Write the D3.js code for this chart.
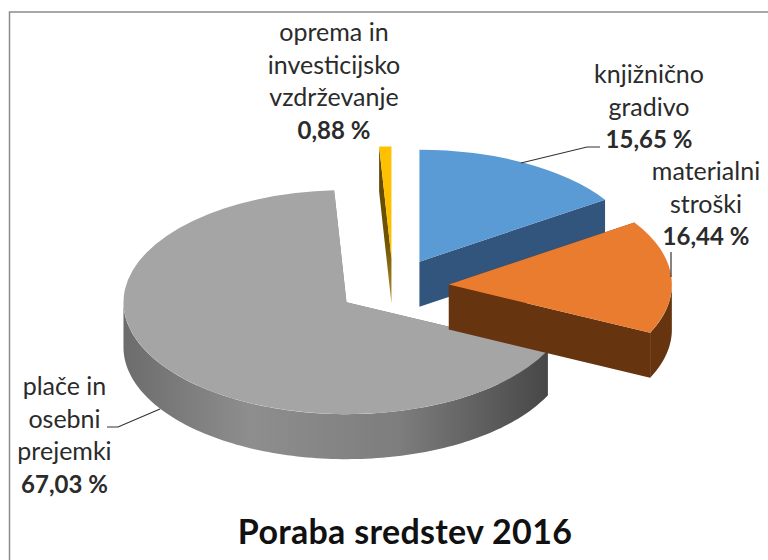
<!DOCTYPE html>
<html>
<head>
<meta charset="utf-8">
<script src="https://cdn.jsdelivr.net/npm/d3@7"></script>
<style>
html,body{margin:0;padding:0;background:#fff;}
svg{display:block;}
text{font-family:Lato,"Open Sans",sans-serif;fill:#2b2b2b;text-anchor:middle;}
</style>
</head>
<body>
<script>
const categories = ["knjižnično gradivo", "materialni stroški", "plače in osebni prejemki", "oprema in investicijsko vzdrževanje"];
const values = [15.65, 16.44, 67.03, 0.88];
const valueLabels = ["15,65 %", "16,44 %", "67,03 %", "0,88 %"];
const labelLines = [["knjižnično", "gradivo"], ["materialni", "stroški"], ["plače in", "osebni", "prejemki"], ["oprema in", "investicijsko", "vzdrževanje"]];
const topColors = ["#5b9bd5", "#ea7c30", "#a5a5a5", "#ffc000"];
const wallColors = ["#31557c", "#66340f", "gray", "#6b5000"];
const title = "Poraba sredstev 2016";

const W = 768, H = 560;
const cx = 393, cy = 286.5, rx = 223, ry = 112, depth = 45, explode = 56;
const k = ry / rx;
const labelPos = [[649, 83], [706, 180], [64.5, 395], [334, 41]];
const lineStep = 32.7;
const leaders = [
  [[521, 163], [587, 147], [600, 147]],
  [[671, 277], [671, 252]],
  [[160, 409], [118, 427], [107, 427]]
];

const svg = d3.select("body").append("svg").attr("width", W).attr("height", H);
svg.append("rect").attr("width", W).attr("height", H).attr("fill", "#fff");

const frame = d3.line();
svg.append("path").attr("d", frame([[9.5, H], [9.5, 12], [W, 12]]))
  .attr("fill", "none").attr("stroke", "#8c8c8c").attr("stroke-width", 1.5);

const defs = svg.append("defs");
const grayGrad = defs.append("linearGradient").attr("id", "grayWall")
  .attr("gradientUnits", "userSpaceOnUse")
  .attr("x1", 123).attr("x2", 548).attr("y1", 0).attr("y2", 0);
[[0, "#6c6c6c"], [0.3, "#8e8e8e"], [0.65, "#7d7d7d"], [1, "#474747"]]
  .forEach(([o, c]) => grayGrad.append("stop").attr("offset", o).attr("stop-color", c));
const yelGrad = defs.append("linearGradient").attr("id", "yellowWall")
  .attr("x1", 0).attr("x2", 0).attr("y1", 0).attr("y2", 1);
[[0, "#5c4500"], [0.6, "#6f5400"], [1, "#b08a30"]]
  .forEach(([o, c]) => yelGrad.append("stop").attr("offset", o).attr("stop-color", c));

const pie = d3.pie().sort(null).value(d => d).startAngle(0).endAngle(2 * Math.PI);
const arcs = pie(values);
const arcGen = d3.arc().innerRadius(0).outerRadius(rx);
const order = [0, 3, 2, 1];

function pt(a, ox, oy, r, dy) {
  return [ox + r * Math.sin(a), oy - r * k * Math.cos(a) + dy];
}

order.forEach(i => {
  const d = arcs[i];
  const mid = (d.startAngle + d.endAngle) / 2;
  const ox = cx + explode * Math.sin(mid);
  const oy = cy - explode * k * Math.cos(mid);
  const wall = i === 2 ? "url(#grayWall)" : i === 3 ? "url(#yellowWall)" : wallColors[i];
  const g = svg.append("g");

  [d.startAngle, d.endAngle].forEach(a => {
    const p0 = [ox, oy], p1 = pt(a, ox, oy, rx, 0), p2 = pt(a, ox, oy, rx, depth), p3 = [ox, oy + depth];
    g.append("path").attr("d", d3.line()([p0, p1, p2, p3]) + "Z").attr("fill", wall);
  });

  const a0 = Math.max(d.startAngle, Math.PI / 2), a1 = Math.min(d.endAngle, 1.5 * Math.PI);
  if (a1 > a0) {
    const steps = d3.range(0, 121).map(t => a0 + (a1 - a0) * t / 120);
    const pts = steps.map(a => pt(a, ox, oy, rx, 0))
      .concat(steps.slice().reverse().map(a => pt(a, ox, oy, rx, depth)));
    g.append("path").attr("d", d3.line()(pts) + "Z").attr("fill", wall);
  }

  g.append("path").attr("d", arcGen(d))
    .attr("transform", `translate(${ox},${oy}) scale(1,${k})`)
    .attr("fill", topColors[i]);
});

leaders.forEach(l => {
  svg.append("path").attr("d", d3.line()(l)).attr("fill", "none")
    .attr("stroke", "#333").attr("stroke-width", 1.2);
});

categories.forEach((c, i) => {
  const [x, y] = labelPos[i];
  const t = svg.append("text").attr("x", x).attr("y", y).attr("font-size", 25);
  labelLines[i].forEach((s, j) => {
    t.append("tspan").attr("x", x).attr("dy", j ? lineStep : 0).text(s);
  });
  t.append("tspan").attr("x", x).attr("dy", lineStep).attr("font-weight", 700).attr("font-size", 24).text(valueLabels[i]);
});

svg.append("text").attr("x", 405).attr("y", 544).attr("font-size", 34)
  .attr("letter-spacing", 0.3).attr("font-weight", 700).style("fill", "#111").text(title);
</script>
</body>
</html>
